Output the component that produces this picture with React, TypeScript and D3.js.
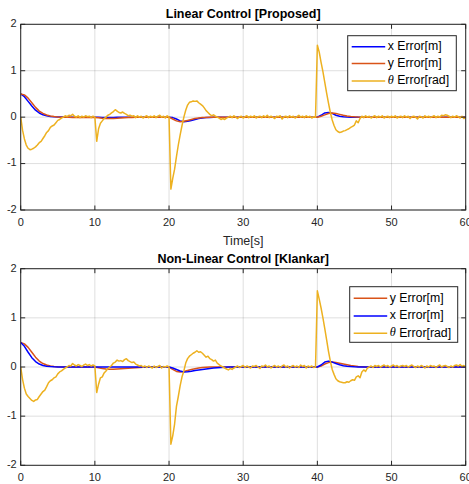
import React from 'react';
import * as d3 from 'd3';

// sample times (seconds)
const timeHalf = d3.range(0, 60.001, 0.5);
const timeQuarter = d3.range(0, 60.001, 0.25);

const xTicks = [0, 10, 20, 30, 40, 50, 60];
const yTicks = [-2, -1, 0, 1, 2];

// ---- Linear Control [Proposed] ----
const topXError = [
  0.5, 0.44, 0.34, 0.24, 0.15, 0.09, 0.05, 0.03, 0.015, 0.008,
  0.004, 0.002, 0, 0, 0, 0, 0, 0, 0, 0,
  0, -0.003, -0.005, -0.006, -0.006, -0.005, -0.004, -0.003, -0.002, -0.001,
  0, 0, 0, 0, 0, 0, 0, 0, 0, 0,
  0, -0.01, -0.04, -0.08, -0.1, -0.09, -0.07, -0.05, -0.03, -0.02,
  -0.01, -0.005, 0, 0, 0, 0, 0, 0, 0, 0,
  0, 0, 0, 0, 0, 0, 0, 0, 0, 0,
  0, 0, 0, 0, 0, 0, 0, 0, 0, 0,
  0, 0.04, 0.09, 0.1, 0.08, 0.04, 0.02, 0.01, 0.004, 0,
  0, 0, 0, 0, 0, 0, 0, 0, 0, 0,
  0, 0, 0, 0, 0, 0, 0, 0, 0, 0,
  0, 0, 0, 0, 0, 0, 0, 0, 0, 0,
  0,
];
const topYError = [
  0.5, 0.48, 0.41, 0.31, 0.21, 0.13, 0.08, 0.045, 0.025, 0.012,
  0.005, 0, -0.003, -0.004, -0.005, -0.005, -0.005, -0.005, -0.005, -0.005,
  -0.005, -0.015, -0.025, -0.03, -0.03, -0.028, -0.025, -0.02, -0.015, -0.01,
  -0.007, -0.004, -0.002, 0, 0, 0, 0, 0, 0, 0,
  0, -0.04, -0.08, -0.1, -0.09, -0.07, -0.05, -0.03, -0.02, -0.01,
  -0.005, 0, 0, 0, 0, 0, 0, 0, 0, 0,
  0, 0, 0, 0, 0, 0, 0, 0, 0, 0,
  0, 0, 0, 0, 0, 0, 0, 0, 0, 0,
  0, 0.02, 0.05, 0.08, 0.09, 0.08, 0.06, 0.04, 0.025, 0.015,
  0.008, 0.003, 0, 0, 0, 0, 0, 0, 0, 0,
  0, 0, 0, 0, 0, 0, 0, 0, 0, 0,
  0, 0, 0, 0, 0, 0, 0, 0, 0, 0,
  0,
];
const topThetaError = [
  0, -0.28, -0.47, -0.6,
  -0.67, -0.7, -0.69, -0.67,
  -0.64, -0.6, -0.55, -0.52,
  -0.46, -0.4, -0.33, -0.29,
  -0.22, -0.19, -0.17, -0.12,
  -0.07, -0.05, -0.02, 0,
  0.03, 0.01, 0.04, 0.03,
  0.06, 0.02, 0, 0.03,
  -0.01, 0.02, 0, 0.03,
  0.01, 0.02, -0.01, 0.02,
  0, -0.52, -0.25, -0.13,
  -0.08, -0.03, 0, 0.04,
  0.06, 0.09, 0.12, 0.16,
  0.13, 0.1, 0.09, 0.11,
  0.08, 0.06, 0.03, 0.04,
  0.02, 0.03, -0.01, 0.03,
  0, 0.02, -0.02, 0.01,
  0.03, -0.01, 0.02, 0,
  0.03, -0.01, 0.02, 0.04,
  0, 0.02, -0.02, 0.03,
  0, -1.55, -1.32, -1.12,
  -0.85, -0.6, -0.38, -0.18,
  0, 0.15, 0.26, 0.32,
  0.33, 0.35, 0.34, 0.35,
  0.31, 0.28, 0.25, 0.2,
  0.14, 0.1, 0.06, 0.03,
  0.05, 0.02, 0, -0.02,
  -0.05, -0.03, -0.05, -0.02,
  0, 0.02, -0.01, 0.03,
  0, -0.03, 0.01, 0.02,
  -0.02, 0.01, 0.03, -0.01,
  0.02, 0, 0.03, -0.02,
  0.01, 0.02, -0.01, 0.03,
  0, 0.04, -0.01, 0.02,
  0, -0.03, 0.02, 0.01,
  0.03, -0.04, 0.01, 0.02,
  -0.01, 0.03, 0, 0.02,
  -0.02, 0.01, 0.04, 0,
  0.02, -0.01, 0.03, 0,
  0.02, -0.02, 0.01, 0,
  1.55, 1.4, 1.18, 0.98,
  0.75, 0.52, 0.3, 0.1,
  -0.06, -0.18, -0.27, -0.31,
  -0.33, -0.32, -0.3, -0.29,
  -0.27, -0.25, -0.22, -0.2,
  -0.17, -0.08, -0.12, -0.03,
  0.02, -0.01, 0.03, 0,
  0.02, -0.02, 0.01, 0.03,
  -0.01, 0.02, 0, 0.03,
  -0.02, 0.01, 0.02, -0.01,
  0.02, 0, 0.03, -0.02,
  0.01, 0.02, -0.01, 0.03,
  0, 0.02, -0.03, 0.01,
  0.02, 0, -0.04, 0.02,
  0.01, -0.02, 0.03, 0,
  0.02, -0.01, 0.01, 0.03,
  -0.01, 0.02, 0, 0.04,
  0.03, 0.05, 0.04, 0.02,
  -0.01, 0.02, 0, 0.03,
  0.01, -0.02, 0.02, -0.03,
  -0.01,
];

// ---- Non-Linear Control [Klankar] ----
const botXError = [
  0.5, 0.42, 0.3, 0.19, 0.11, 0.06, 0.03, 0.015, 0.008, 0.004,
  0.002, 0, 0, 0, 0, 0, 0, 0, 0, 0,
  0, 0, 0, 0, 0, 0, 0, 0, 0, 0,
  0, 0, 0, 0, 0, 0, 0, 0, 0, 0,
  0, -0.02, -0.05, -0.08, -0.1, -0.095, -0.085, -0.07, -0.06, -0.05,
  -0.04, -0.03, -0.02, -0.015, -0.01, -0.005, 0, 0, 0, 0,
  0, 0, 0, 0, 0, 0, 0, 0, 0, 0,
  0, 0, 0, 0, 0, 0, 0, 0, 0, 0,
  0, 0.04, 0.1, 0.12, 0.1, 0.07, 0.045, 0.025, 0.015, 0.008,
  0.003, 0, 0, 0, 0, 0, 0, 0, 0, 0,
  0, 0, 0, 0, 0, 0, 0, 0, 0, 0,
  0, 0, 0, 0, 0, 0, 0, 0, 0, 0,
  0,
];
const botYError = [
  0.5, 0.47, 0.4, 0.3, 0.2, 0.12, 0.07, 0.04, 0.02, 0.01,
  0.004, 0, 0, 0, 0, 0, 0, 0, 0, 0,
  0, -0.015, -0.03, -0.04, -0.045, -0.045, -0.04, -0.035, -0.03, -0.025,
  -0.02, -0.015, -0.01, -0.005, 0, 0, 0, 0, 0, 0,
  0, -0.05, -0.09, -0.1, -0.09, -0.07, -0.05, -0.035, -0.02, -0.01,
  -0.005, 0, 0, 0, 0, 0, 0, 0, 0, 0,
  0, 0, 0, 0, 0, 0, 0, 0, 0, 0,
  0, 0, 0, 0, 0, 0, 0, 0, 0, 0,
  0, 0.02, 0.06, 0.09, 0.1, 0.09, 0.075, 0.06, 0.045, 0.03,
  0.02, 0.01, 0.005, 0, 0, 0, 0, 0, 0, 0,
  0, 0, 0, 0, 0, 0, 0, 0, 0, 0,
  0, 0, 0, 0, 0, 0, 0, 0, 0, 0,
  0,
];
const botThetaError = [
  0, -0.25, -0.43, -0.55,
  -0.6, -0.64, -0.68, -0.7,
  -0.67, -0.66, -0.6, -0.55,
  -0.5, -0.47, -0.4, -0.32,
  -0.28, -0.26, -0.22, -0.2,
  -0.14, -0.1, -0.08, -0.05,
  -0.02, 0, 0.03, 0.02,
  0.07, 0.04, 0.02, 0.05,
  0.03, 0.01, 0.04, 0.06,
  0.03, 0.05, 0.02, 0.04,
  0.02, -0.52, -0.35, -0.22,
  -0.2, -0.12, -0.08, -0.03,
  0, 0.03, 0.08, 0.1,
  0.14, 0.12, 0.13, 0.11,
  0.15, 0.17, 0.13, 0.11,
  0.09, 0.1, 0.06, 0.04,
  0.02, 0.03, 0, 0.02,
  -0.01, 0.02, 0, -0.02,
  0.02, -0.01, 0.01, 0.03,
  -0.02, 0.01, 0, 0.02,
  0, -1.57, -1.4, -1.16,
  -0.8, -0.6, -0.38, -0.2,
  -0.08, 0.08, 0.17, 0.22,
  0.25, 0.28, 0.3, 0.33,
  0.3, 0.31, 0.28, 0.24,
  0.2, 0.22, 0.17, 0.15,
  0.12, 0.14, 0.08, 0.05,
  0.02, 0, -0.02, -0.04,
  -0.06, -0.03, -0.05, -0.02,
  0, 0.02, -0.01, 0.01,
  0.03, -0.01, 0.02, 0,
  -0.02, 0.02, 0.01, 0.03,
  0, -0.03, 0.02, 0.01,
  0.04, 0, 0.02, -0.02,
  0.01, 0.03, 0, 0.02,
  -0.01, 0.02, 0.04, 0,
  0.02, -0.02, 0.01, 0.03,
  0, 0.02, -0.01, 0.04,
  0.01, 0.03, -0.02, 0.02,
  0, 0.02, -0.01, 0,
  1.55, 1.38, 1.2, 1.0,
  0.78, 0.55, 0.32, 0.12,
  -0.05, -0.15, -0.24, -0.28,
  -0.3, -0.31, -0.32, -0.32,
  -0.3, -0.31, -0.28, -0.26,
  -0.27, -0.2, -0.18, -0.22,
  -0.1, -0.06, -0.09, -0.02,
  0, 0.02, -0.01, 0.03,
  0.01, 0.03, 0, 0.02,
  0.04, 0.01, 0.03, 0,
  0.02, 0.04, 0.01, 0.03,
  0, 0.02, 0.03, 0.01,
  0.03, 0, 0.02, 0.04,
  0.01, -0.01, 0.02, 0,
  0.03, 0.01, -0.02, 0.02,
  0, 0.03, 0.01, 0.02,
  -0.01, 0.02, 0.04, 0,
  0.02, 0.03, 0.01, -0.01,
  0.02, 0, 0.03, 0.04,
  0.02, 0.05, 0.01, 0.03,
  0,
];

const BLUE = '#0000ff';
const RED = '#d95319';
const YELLOW = '#edb120';
const AXIS = '#262626';
const FONT = '"Liberation Sans", Arial, Helvetica, sans-serif';

type Series = { label: string; color: string; t: number[]; v: number[] };

const toPts = (s: Series) => s.t.map((t, i) => [t, s.v[i]] as [number, number]);

function Panel({ id, title, top, bottom, xLabel, drawOrder, legendOrder, legendBox }: {
  id: string; title: string; top: number; bottom: number; xLabel?: string;
  drawOrder: Series[]; legendOrder: Series[];
  legendBox: { x: number; y: number; w: number; h: number; rows: number[] };
}) {
  const x = d3.scaleLinear().domain([0, 60]).range([20.7, 465.7]);
  const y = d3.scaleLinear().domain([-2, 2]).range([bottom, top]);
  const line = d3.line<[number, number]>().x(d => x(d[0])).y(d => y(d[1]));
  const [x0, x1] = x.range();
  const tick = 4.5;

  return (
    <g>
      <defs>
        <clipPath id={id}>
          <rect x={x0} y={top} width={x1 - x0} height={bottom - top} />
        </clipPath>
      </defs>
      <rect x={x0} y={top} width={x1 - x0} height={bottom - top} fill="#fff" />
      {xTicks.map(t => (
        <line key={'gx' + t} x1={x(t)} x2={x(t)} y1={top} y2={bottom} stroke={AXIS} strokeOpacity={0.15} />
      ))}
      {yTicks.map(t => (
        <line key={'gy' + t} x1={x0} x2={x1} y1={y(t)} y2={y(t)} stroke={AXIS} strokeOpacity={0.15} />
      ))}
      <g clipPath={`url(#${id})`}>
        {drawOrder.map(s => (
          <path key={s.label} d={line(toPts(s)) || ''} fill="none" stroke={s.color} strokeWidth={1.5} strokeLinejoin="round" />
        ))}
      </g>
      <rect x={x0} y={top} width={x1 - x0} height={bottom - top} fill="none" stroke={AXIS} strokeWidth={1} />
      {xTicks.map(t => (
        <g key={'tx' + t}>
          <line x1={x(t)} x2={x(t)} y1={bottom} y2={bottom - tick} stroke={AXIS} />
          <line x1={x(t)} x2={x(t)} y1={top} y2={top + tick} stroke={AXIS} />
          <text x={x(t)} y={bottom + 13} textAnchor="middle" dominantBaseline="middle" fontSize={11} fill={AXIS} fontFamily={FONT}>{t}</text>
        </g>
      ))}
      {yTicks.map(t => (
        <g key={'ty' + t}>
          <line x1={x0} x2={x0 + tick} y1={y(t)} y2={y(t)} stroke={AXIS} />
          <line x1={x1} x2={x1 - tick} y1={y(t)} y2={y(t)} stroke={AXIS} />
          <text x={x0 - 4} y={y(t)} textAnchor="end" dominantBaseline="middle" fontSize={11} fill={AXIS} fontFamily={FONT}>{t}</text>
        </g>
      ))}
      <text x={(x0 + x1) / 2} y={top - 6} textAnchor="middle" fontSize={12.5} fontWeight="bold" fill="#000" fontFamily={FONT}>{title}</text>
      {xLabel && (
        <text x={(x0 + x1) / 2} y={bottom + 34.5} textAnchor="middle" fontSize={12.5} fill={AXIS} fontFamily={FONT}>{xLabel}</text>
      )}
      <rect x={legendBox.x} y={legendBox.y} width={legendBox.w} height={legendBox.h} fill="#fff" stroke={AXIS} strokeWidth={1} />
      {legendOrder.map((s, i) => {
        const cy = legendBox.rows[i];
        const isTheta = s.label.startsWith('θ');
        return (
          <g key={'lg' + s.label}>
            <line x1={legendBox.x + 4} x2={legendBox.x + 37.5} y1={cy} y2={cy} stroke={s.color} strokeWidth={1.5} />
            <text x={legendBox.x + 40} y={cy} dominantBaseline="middle" fontSize={12.3} fill="#000" fontFamily={FONT}>
              {isTheta ? (
                <>
                  <tspan fontStyle="italic" fontFamily='"Liberation Serif", "Times New Roman", serif'>θ</tspan>
                  {s.label.slice(1)}
                </>
              ) : s.label}
            </text>
          </g>
        );
      })}
    </g>
  );
}

export default function App() {
  const tx: Series = { label: 'x Error[m]', color: BLUE, t: timeHalf, v: topXError };
  const ty: Series = { label: 'y Error[m]', color: RED, t: timeHalf, v: topYError };
  const tth: Series = { label: 'θ Error[rad]', color: YELLOW, t: timeQuarter, v: topThetaError };
  const bx: Series = { label: 'x Error[m]', color: BLUE, t: timeHalf, v: botXError };
  const by: Series = { label: 'y Error[m]', color: RED, t: timeHalf, v: botYError };
  const bth: Series = { label: 'θ Error[rad]', color: YELLOW, t: timeQuarter, v: botThetaError };

  return (
    <svg width={469} height={484} style={{ position: 'absolute', left: 0, top: 0, background: '#fff' }}>
      <Panel
        id="clipTop"
        title="Linear Control [Proposed]"
        top={24.3}
        bottom={210}
        xLabel="Time[s]"
        drawOrder={[tx, ty, tth]}
        legendOrder={[tx, ty, tth]}
        legendBox={{ x: 347.7, y: 35.7, w: 108.6, h: 55, rows: [46.7, 63.5, 81] }}
      />
      <Panel
        id="clipBot"
        title="Non-Linear Control [Klankar]"
        top={268.7}
        bottom={465.3}
        drawOrder={[by, bx, bth]}
        legendOrder={[by, bx, bth]}
        legendBox={{ x: 349.7, y: 286.7, w: 108, h: 55.6, rows: [298.3, 316, 333.3] }}
      />
    </svg>
  );
}
